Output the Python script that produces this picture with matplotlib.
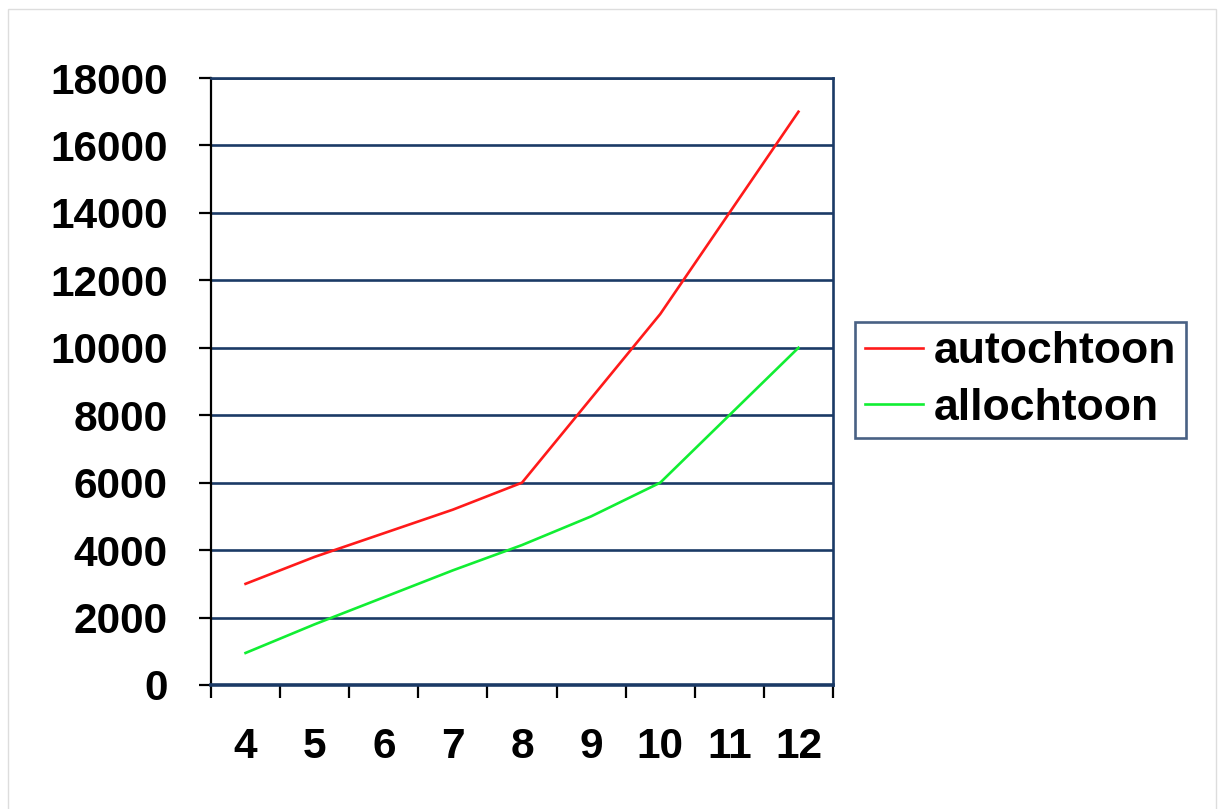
import matplotlib
matplotlib.use("Agg")
import matplotlib.pyplot as plt
from matplotlib.patches import Rectangle

categories = ["4", "5", "6", "7", "8", "9", "10", "11", "12"]
autochtoon = [3000, 3800, 4500, 5200, 6000, 8500, 11000, 14000, 17000]
allochtoon = [950, 1800, 2600, 3400, 4150, 5000, 6000, 8000, 10000]
yticks = [0, 2000, 4000, 6000, 8000, 10000, 12000, 14000, 16000, 18000]

plt.rcParams['font.family'] = ['Liberation Sans', 'DejaVu Sans']
plt.rcParams['font.weight'] = 'bold'

W, H = 1224, 809
fig = plt.figure(figsize=(W / 100, H / 100), dpi=100)
fig.patches.append(Rectangle((8 / W, -0.01), (1216 - 8) / W, 1 - 9 / H + 0.01,
                             transform=fig.transFigure, fill=False,
                             edgecolor='#dddddd', linewidth=1))

ax = fig.add_axes([211 / W, 1 - 685 / H, (833 - 211) / W, (685 - 78) / H])
navy = '#1b3a66'

xs = [i + 0.5 for i in range(len(categories))]
ax.set_xlim(0, len(categories))
ax.set_ylim(0, 18000)

for y in yticks:
    ax.axhline(y, color=navy, lw=1.9, zorder=1)

ax.plot(xs, autochtoon, color='#ff1a1a', lw=1.9, label='autochtoon', zorder=3)
ax.plot(xs, allochtoon, color='#11ee33', lw=1.9, label='allochtoon', zorder=3)

ax.set_yticks(yticks)
ax.set_yticklabels([str(v) for v in yticks], fontsize=30.5, fontweight='bold')
ax.set_xticks(range(len(categories) + 1))
ax.set_xticklabels([])
ax.set_xticks(xs, minor=True)
ax.set_xticklabels(categories, minor=True, fontsize=30.5, fontweight='bold')
ax.tick_params(axis='x', which='minor', length=0, pad=30)
ax.tick_params(axis='x', which='major', length=9, width=1.6, direction='out', color='black')
ax.tick_params(axis='y', length=9, width=1.6, direction='out', color='black', pad=22)

ax.spines['left'].set_color('black')
ax.spines['left'].set_linewidth(1.6)
ax.spines['bottom'].set_color(navy)
ax.spines['bottom'].set_linewidth(2.6)
ax.spines['right'].set_color(navy)
ax.spines['right'].set_linewidth(1.9)
ax.spines['top'].set_color(navy)
ax.spines['top'].set_linewidth(1.9)

leg = fig.legend(loc='center left', bbox_to_anchor=(855 / W, 1 - 380 / H),
                 prop={'weight': 'bold', 'size': 32},
                 frameon=True, fancybox=False, handlelength=1.3,
                 handletextpad=0.25, borderpad=0.22, labelspacing=0.34,
                 borderaxespad=0)
leg.get_frame().set_edgecolor(navy)
leg.get_frame().set_linewidth(1.9)
for line in leg.get_lines():
    line.set_linewidth(1.9)

fig.savefig('out.png', dpi=100, facecolor='white')
